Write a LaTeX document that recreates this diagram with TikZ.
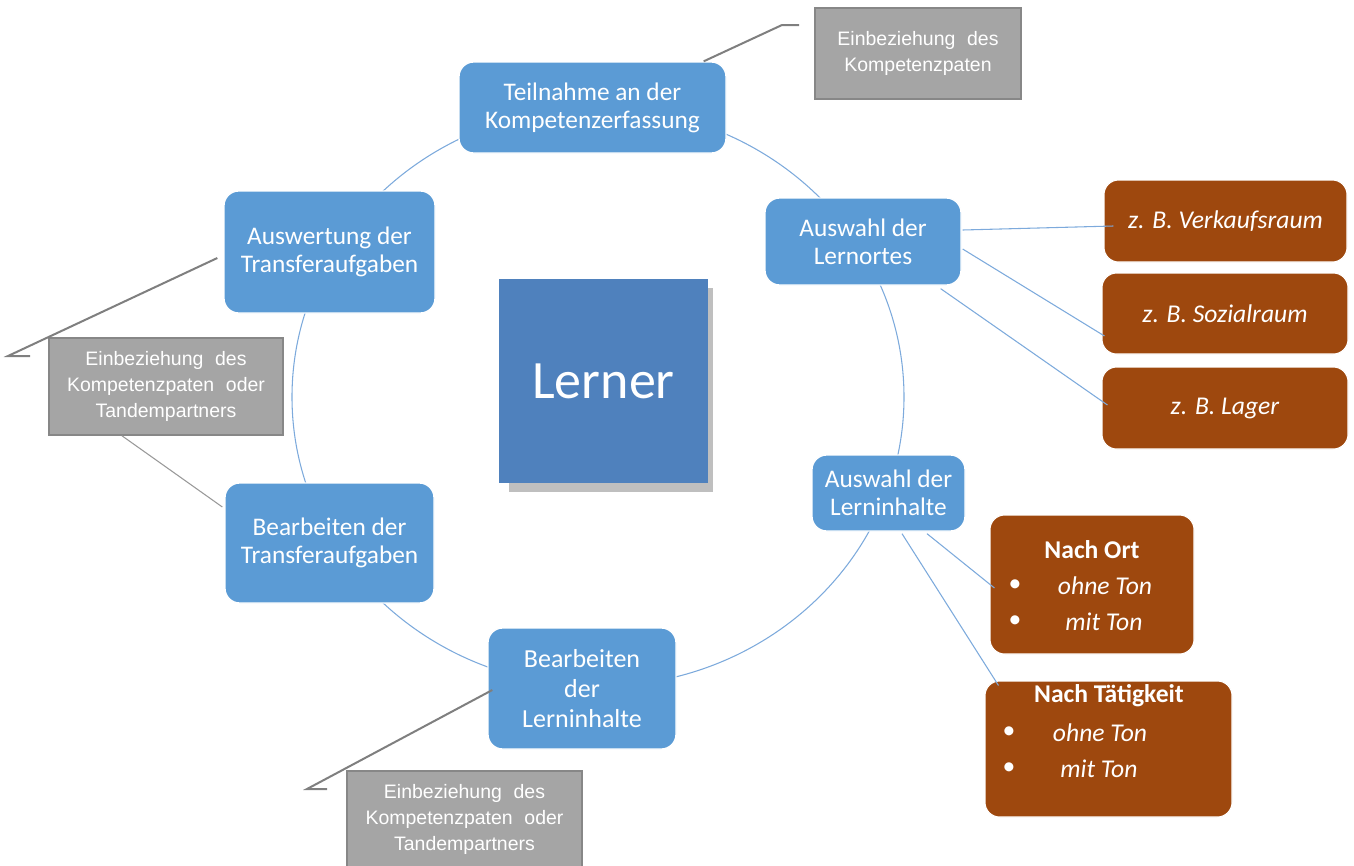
\documentclass[tikz,border=0pt]{standalone}
\usepackage{fontspec}
\setmainfont{Carlito}
\newfontfamily\arialf{Liberation Sans}
\usetikzlibrary{calc}
\definecolor{nodeblue}{RGB}{91,155,213}
\definecolor{lernerblue}{RGB}{79,129,189}
\definecolor{shadowgrey}{RGB}{191,191,191}
\definecolor{brownbox}{RGB}{158,72,14}
\definecolor{greyfill}{RGB}{165,165,165}
\definecolor{greyborder}{RGB}{135,135,135}
\definecolor{greyline}{RGB}{127,127,127}
\definecolor{ringblue}{RGB}{125,170,220}
\newcommand\wgap{\hspace{0.6em}}
\begin{document}
\begin{tikzpicture}[x=0.75pt,y=-0.75pt,
  box/.style 2 args={minimum width=#1*0.75pt, minimum height=#2*0.75pt},
  cyc/.style={draw=white, line width=1pt, fill=nodeblue, rounded corners=11pt, text=white, align=center, inner sep=0pt, font=\fontsize{19}{21}\selectfont},
  ex/.style={fill=brownbox, rounded corners=11pt, draw=white, line width=0.8pt, inner sep=0pt, text=white, font=\fontsize{19.2}{22}\selectfont\itshape},
  extitle/.style={inner sep=0pt, text=white, font=\fontsize{19.2}{22}\selectfont\bfseries},
  exitem/.style={inner sep=0pt, text=white, font=\fontsize{19.2}{22}\selectfont\itshape},
  exbullet/.style={inner sep=0pt, text=white, font=\fontsize{19.2}{22}\selectfont},
  note/.style={fill=greyfill, draw=greyborder, line width=1.2pt, inner sep=0pt, text=white, align=center, font=\arialf\fontsize{14.6}{19.5}\selectfont},
  leader/.style={draw=greyline, line width=1.5pt},
  thinleader/.style={draw=greyline!80, line width=0.8pt},
  link/.style={draw=ringblue, line width=0.8pt},
  ring/.style={draw=ringblue, line width=0.8pt},
]
\useasboundingbox (0,0) rectangle (1354,865);
\clip (0,0) rectangle (1354,865);

% ring
\draw[ring] (598,397) ellipse [x radius=229.5pt, y radius=217pt];

% centre
\fill[shadowgrey] (509,288) rectangle (713,492);
\node[fill=lernerblue, box={209}{204}, inner sep=0pt, text=white, font=\fontsize{40.5}{44}\selectfont] (lr) at (603.5,381) {Lerner};

% cycle nodes
\node[cyc, box={267}{91}] (tn) at (592.5,107.5) {Teilnahme an der\\Kompetenzerfassung};
\node[cyc, box={196}{87}] (lo) at (863,241.5) {Auswahl der\\Lernortes};
\node[cyc, box={153}{76}] (li) at (888.5,493) {Auswahl der\\Lerninhalte};
\node[cyc, box={188}{121}, font=\fontsize{19.5}{22.5}\selectfont] (bl) at (582,688.5) {Bearbeiten\\der\\Lerninhalte};
\node[cyc, box={209}{120}] (bt) at (329.5,543) {Bearbeiten der\\Transferaufgaben};
\node[cyc, box={211}{122}] (aw) at (329.5,252) {Auswertung der\\Transferaufgaben};

% brown boxes
\node[ex, box={243}{82}] (vk) at (1225.5,221) {z. B. Verkaufsraum};
\node[ex, box={246}{81}] (sz) at (1225,313.5) {z. B. Sozialraum};
\node[ex, box={246}{82}] (lg) at (1225,408) {z. B. Lager};
\node[ex, box={204}{139}] (no) at (1092,584.5) {};
\node[extitle] (not) at (1092,550) {Nach Ort};
\node[exbullet] (nob1) at (1015,586) {•};
\node[exbullet] (nob2) at (1015,622) {•};
\node[exitem] (noi1) at (1105,586) {ohne Ton};
\node[exitem] (noi2) at (1104,622) {mit Ton};
\node[ex, box={247}{136}] (nt) at (1108.5,749) {};
\node[extitle] (ntt) at (1109,696) {Nach Tätigkeit};
\node[exbullet] (ntb1) at (1009,733) {•};
\node[exbullet] (ntb2) at (1009,769) {•};
\node[exitem] (nti1) at (1100,733) {ohne Ton};
\node[exitem] (nti2) at (1099,769) {mit Ton};

% links to examples
\draw[link] ($(lo.east)+(1,-11.5)$) -- ($(vk.west)+(10,5)$);
\draw[link] ($(lo.east)+(1,7.5)$) -- ($(sz.west)+(3,22.5)$);
\draw[link] ($(lo.south east)+(-21,3)$) -- ($(lg.west)+(6,-3)$);
\draw[link] ($(li.south)+(38.5,2)$) -- ($(no.west)+(5,3.5)$);
\draw[link] ($(li.south)+(13.5,2)$) -- ($(nt.north west)+(14,5)$);

% grey notes
\node[note, box={206}{91}] (g1) at (918,53.5) {Einbeziehung\wgap des\\Kompetenzpaten};
\node[note, box={234}{97}] (g2) at (166,386.5) {Einbeziehung\wgap des\\Kompetenzpaten\wgap oder\\Tandempartners};
\node[note, box={235}{96}] (g3) at (464.5,819) {Einbeziehung\wgap des\\Kompetenzpaten\wgap oder\\Tandempartners};

% leaders
\coordinate (k1) at (782,25);
\coordinate (k1e) at (799,25);
\draw[leader] ($(tn.north east)+(-23,0)$) -- (k1) -- (k1e);
\coordinate (k2) at (8,356);
\coordinate (k2e) at (30,356);
\draw[leader] ($(aw.west)+(-6,6)$) -- (k2) -- (k2e);
\coordinate (k3) at (307,789);
\coordinate (k3e) at (327,789);
\draw[leader] ($(bl.west)+(5,1.5)$) -- (k3) -- (k3e);
\draw[thinleader] ($(g2.south)+(-44,0)$) -- ($(bt.west)+(-2,-36)$);
\end{tikzpicture}
\end{document}
